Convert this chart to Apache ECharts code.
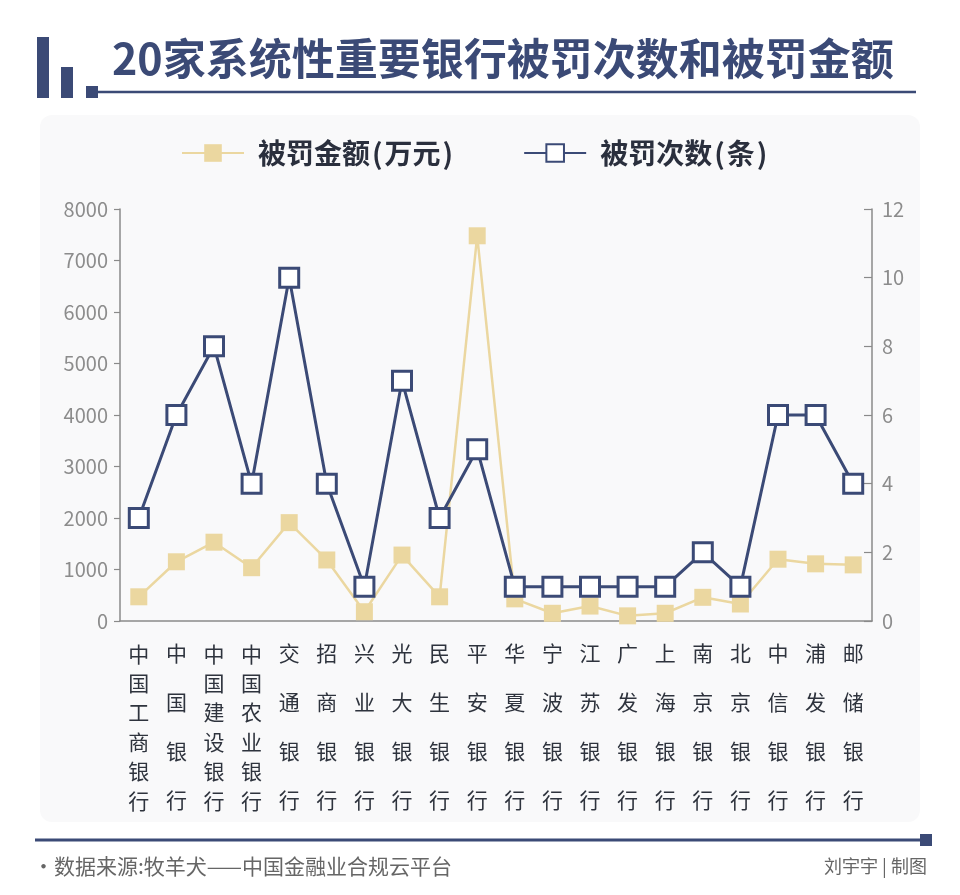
<!DOCTYPE html>
<html>
<head>
<meta charset="utf-8">
<script src="https://cdn.jsdelivr.net/npm/echarts@6/dist/echarts.min.js"></script>
<style>
html,body{margin:0;padding:0;background:#fff;}
#main{width:960px;height:895px;}
</style>
</head>
<body>
<div id="main"></div>
<script>
const categories = ['中国工商银行','中国银行','中国建设银行','中国农业银行','交通银行','招商银行','兴业银行','光大银行','民生银行','平安银行','华夏银行','宁波银行','江苏银行','广发银行','上海银行','南京银行','北京银行','中信银行','浦发银行','邮储银行'];
const fineAmount = [470, 1150, 1530, 1035, 1910, 1185, 180, 1280, 470, 7480, 430, 150, 290, 100, 150, 460, 330, 1200, 1110, 1090];
const fineCount = [3, 6, 8, 4, 10, 4, 1, 7, 3, 5, 1, 1, 1, 1, 1, 2, 1, 6, 6, 4];
const leftTicks = [0, 8000, 1000];
const rightTicks = [0, 12, 2];

const NAVY = '#3b4a76';
const GOLD = '#ebd7a0';
const FONT = '"Noto Sans CJK SC", "Noto Sans", sans-serif';

const chart = echarts.init(document.getElementById('main'), null, {renderer: 'canvas'});
const option = {
  backgroundColor: '#ffffff',
  textStyle: {fontFamily: FONT},
  animation: false,
  graphic: [
    {type: 'rect', shape: {x: 40, y: 115, width: 880, height: 707, r: 12}, style: {fill: '#f9f9fa'}, z: -10},
    {type: 'rect', shape: {x: 37, y: 37, width: 12, height: 61}, style: {fill: NAVY}},
    {type: 'rect', shape: {x: 61, y: 67, width: 12, height: 31}, style: {fill: NAVY}},
    {type: 'rect', shape: {x: 86, y: 86, width: 12, height: 12}, style: {fill: NAVY}},
    {type: 'line', shape: {x1: 98, y1: 92, x2: 916, y2: 92}, style: {stroke: NAVY, lineWidth: 2.5}},
    {type: 'line', shape: {x1: 35, y1: 840, x2: 924, y2: 840}, style: {stroke: NAVY, lineWidth: 3}},
    {type: 'rect', shape: {x: 920, y: 834, width: 12, height: 12}, style: {fill: NAVY}},
    {type: 'text', x: 33, y: 866, style: {text: '·数据来源:牧羊犬——中国金融业合规云平台', fontSize: 21, fill: '#666666', fontFamily: FONT, verticalAlign: 'middle'}},
    {type: 'text', x: 927, y: 866, style: {text: '刘宇宇 | 制图', fontSize: 18, fill: '#666666', fontFamily: FONT, align: 'right', verticalAlign: 'middle'}}
  ],
  title: {
    text: '20家系统性重要银行被罚次数和被罚金额',
    left: 107, top: 32,
    textStyle: {fontFamily: FONT, fontSize: 43, fontWeight: 'bold', color: NAVY}
  },
  legend: {
    left: 176, top: 134,
    itemWidth: 62, itemHeight: 22,
    itemGap: 70,
    formatter: function (name) {
      return name.replace(/^([^(]*)\(([^)]*)\)$/, '{t|$1}{p|(}{t|$2}{p|)}');
    },
    textStyle: {
      fontFamily: FONT, fontSize: 28, fontWeight: 'bold', color: '#2a2f3d', padding: [0, 0, 0, 9],
      rich: {
        t: {fontFamily: FONT, fontSize: 28, fontWeight: 'bold', color: '#2a2f3d'},
        p: {fontFamily: FONT, fontSize: 28, fontWeight: 'bold', color: '#2a2f3d', padding: [0, 2, 0, 2]}
      }
    },
    data: ['被罚金额(万元)', '被罚次数(条)']
  },
  grid: {left: 120, right: 88, top: 209, bottom: 274, containLabel: false},
  xAxis: {
    type: 'category',
    data: categories,
    boundaryGap: true,
    axisLine: {lineStyle: {color: '#8a8a8a', width: 1.5}},
    axisTick: {inside: true, length: 6, lineStyle: {color: '#8a8a8a', width: 1.2}},
    axisLabel: {
      interval: 0,
      margin: 8,
      formatter: function (v) {
        const chars = v.split('');
        if (chars.length > 4) {
          return '{sp| }\n' + chars.map(c => '{a|' + c + '}').join('\n');
        }
        return chars.map(c => '{b|' + c + '}').join('\n');
      },
      rich: {
        sp: {fontSize: 1, lineHeight: 10},
        a: {fontSize: 21, lineHeight: 29.4, color: '#2e333d', fontFamily: FONT},
        b: {fontSize: 21, lineHeight: 49, color: '#2e333d', fontFamily: FONT}
      }
    }
  },
  yAxis: [
    {
      type: 'value', min: leftTicks[0], max: leftTicks[1], interval: leftTicks[2],
      axisLine: {show: true, lineStyle: {color: '#8a8a8a', width: 1.5}},
      axisTick: {show: true, length: 6, lineStyle: {color: '#8a8a8a', width: 1.2}},
      splitLine: {show: false},
      axisLabel: {fontSize: 20, color: '#8c8c8c', margin: 12, fontFamily: FONT, formatter: function (v) { return String(v); }}
    },
    {
      type: 'value', min: rightTicks[0], max: rightTicks[1], interval: rightTicks[2],
      position: 'right',
      axisLine: {show: true, lineStyle: {color: '#8a8a8a', width: 1.5}},
      axisTick: {show: true, inside: true, length: 8, lineStyle: {color: '#8a8a8a', width: 1.2}},
      splitLine: {show: false},
      axisLabel: {fontSize: 20, color: '#8c8c8c', margin: 10, fontFamily: FONT}
    }
  ],
  series: [
    {
      name: '被罚金额(万元)', type: 'line', yAxisIndex: 0, data: fineAmount,
      symbol: 'rect', symbolSize: 17,
      lineStyle: {color: GOLD, width: 2.5},
      itemStyle: {color: GOLD},
      z: 2
    },
    {
      name: '被罚次数(条)', type: 'line', yAxisIndex: 1, data: fineCount,
      symbol: 'rect', symbolSize: 19,
      lineStyle: {color: NAVY, width: 3},
      itemStyle: {color: '#ffffff', borderColor: NAVY, borderWidth: 3},
      z: 3
    }
  ]
};
chart.setOption(option);
</script>
</body>
</html>
